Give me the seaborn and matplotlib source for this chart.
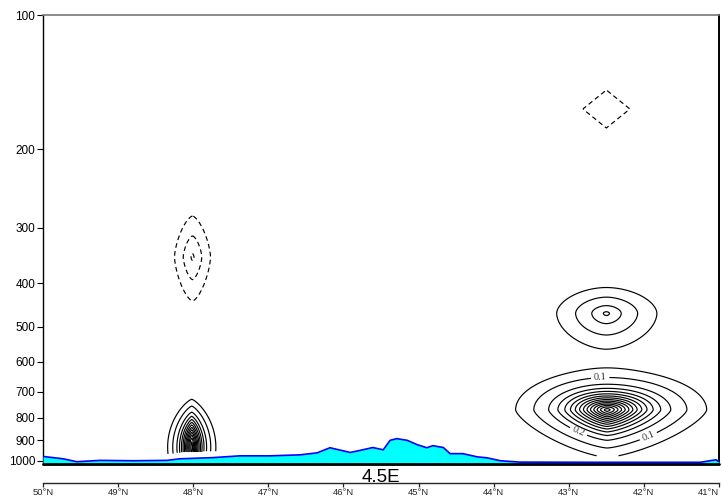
import numpy as np
import pandas as pd
import matplotlib
matplotlib.use("Agg")
import matplotlib.pyplot as plt
import seaborn as sns

# ---------------- data ----------------
# terrain: surface pressure (hPa) along the latitude section
terrain_lat = [50.0, 49.73, 49.55, 49.24, 48.80, 48.35, 48.18, 47.74, 47.38, 46.98,
               46.58, 46.35, 46.18, 45.91, 45.78, 45.61, 45.47, 45.38, 45.29, 45.15,
               45.02, 44.89, 44.81, 44.67, 44.58, 44.41, 44.22, 44.09, 43.91, 43.65,
               42.58, 41.25, 41.04, 41.0]
terrain_p = [978, 990, 1005, 998, 1000, 998, 990, 984, 975, 975,
             970, 960, 935, 958, 948, 934, 945, 900, 892, 900,
             920, 935, 925, 934, 964, 964, 980, 985, 1000, 1007,
             1008, 1008, 995, 1005]

# field features (centre latitude, centre pressure, amplitude, extents, shape)
blob_lat = [42.49, 42.50, 48.02, 48.01, 42.50]
blob_p = [769.0, 467.0, 932.0, 349.0, 162.5]
blob_amp = [1.45, 0.325, 1.25, -0.31, -0.15]
blob_wx_north = [0.466, 0.360, 0.124, 0.220, 0.772]   # degrees
blob_wx_south = [0.507, 0.366, 0.124, 0.220, 0.772]
blob_wy_up = [0.0343, 0.0323, 0.058, 0.0843, 0.105]   # log10(p) units
blob_wy_down = [0.0408, 0.0426, 0.058, 0.0906, 0.105]
blob_qx = [1.33, 1.2, 1.3, 1.43, 1.0]
blob_qy = [1.33, 1.2, 2.0, 1.43, 1.0]
blob_m_up = [1.5, 1.5, 1.0, 1.05, 1.0]
blob_m_down = [1.05, 1.5, 1.0, 1.05, 1.0]

pos_levels = [0.04, 0.3, 0.4, 0.5, 0.6, 0.7, 0.8, 0.9, 1.0, 1.1, 1.2, 1.3, 1.4]
labelled_levels = [0.1, 0.2]
neg_levels = [-0.3, -0.2, -0.1]

y_ticks = [100, 200, 300, 400, 500, 600, 700, 800, 900, 1000]
x_ticks = [50, 49, 48, 47, 46, 45, 44, 43, 42, 41]
x_labels = [f"{v}°N" for v in x_ticks]
title = "4.5E"
p_bottom, p_top = 1017, 100

# ---------------- build field ----------------
lat = np.linspace(41, 50, 901)
lp = np.linspace(np.log10(p_top), np.log10(p_bottom), 600)
LAT, LP = np.meshgrid(lat, lp)
P = 10 ** LP
Z = np.zeros_like(LAT)
for i in range(len(blob_lat)):
    dx = LAT - blob_lat[i]
    dy = LP - np.log10(blob_p[i])
    wx = np.where(dx > 0, blob_wx_north[i], blob_wx_south[i])
    wy = np.where(dy < 0, blob_wy_up[i], blob_wy_down[i])
    m = np.where(dy < 0, blob_m_up[i], blob_m_down[i])
    S = (np.abs(dx / wx) ** (blob_qx[i] * m) + np.abs(dy / wy) ** (blob_qy[i] * m)) ** (1.0 / m)
    Z += blob_amp[i] * np.exp(-S)

ps_grid = np.interp(lat, terrain_lat[::-1], terrain_p[::-1])
mask = P > (ps_grid[None, :] - 30)
Zm = np.ma.masked_where(mask, Z)

# ---------------- plot ----------------
sns.set_style("white")
plt.rcParams["font.family"] = ["Liberation Sans", "DejaVu Sans"]
plt.rcParams["lines.dashed_pattern"] = [4.0, 2.8]

fig = plt.figure(figsize=(7.22, 4.99), dpi=100)
ax = fig.add_axes([0.0596, 0.0701, 0.9363, 0.8998])
ax.set_yscale("log")

line_kw = dict(colors="black", linewidths=0.85)
cs = ax.contour(LAT, P, Zm, levels=pos_levels, **line_kw)
cn = ax.contour(LAT, P, Zm, levels=neg_levels, linestyles="dashed", **line_kw)
c1 = ax.contour(LAT, P, Zm, levels=[labelled_levels[0]], **line_kw)
c2 = ax.contour(LAT, P, Zm, levels=[labelled_levels[1]], **line_kw)


def to_data(px, py):
    return (50 - (px - 43) / 75.1, 100 * 10 ** ((py - 15) / 446.0))


lab_kw = dict(inline=True, inline_spacing=2, fontsize=7.5, fmt="%.1f", colors="#333333")
t1 = c1.clabel(manual=[to_data(600, 377), to_data(648, 436)], **lab_kw)
t2 = c2.clabel(manual=[to_data(580, 428)], **lab_kw)
for t in list(t1) + list(t2):
    t.set_family(["Liberation Serif", "DejaVu Serif"])

# terrain
ax.fill_between(terrain_lat, terrain_p, p_bottom, color="#00ffff", zorder=3, linewidth=0)
sns.lineplot(x=terrain_lat, y=terrain_p, color="#0000ff", linewidth=1.2, ax=ax,
             sort=False, zorder=4)
ax.axhline(p_bottom, color="black", linewidth=2.0, zorder=5, clip_on=False)

ax.set_xlim(50, 41)
ax.set_ylim(p_bottom, p_top)
ax.set_yticks(y_ticks)
ax.set_yticklabels([str(v) for v in y_ticks])
ax.yaxis.set_minor_locator(matplotlib.ticker.NullLocator())
ax.tick_params(axis="y", direction="out", length=4, width=0.8, labelsize=8.5,
               left=True, pad=1.5, colors="black")
ax.tick_params(axis="x", bottom=False, labelbottom=False)
ax.set_xlabel("")
ax.set_ylabel("")
for s in ["left", "right", "bottom"]:
    ax.spines[s].set_color("black")
    ax.spines[s].set_linewidth(1.0)
ax.spines["right"].set_linewidth(1.4)
ax.spines["top"].set_color("#777777")
ax.spines["top"].set_linewidth(1.2)

sec = ax.secondary_xaxis(-0.0423)
sec.set_xticks(x_ticks)
sec.set_xticklabels(x_labels)
sec.tick_params(axis="x", direction="out", length=3, width=0.9, labelsize=6.8, pad=0.8)
sec.spines["bottom"].set_linewidth(1.0)
last = sec.get_xticklabels()[-1]
last.set_horizontalalignment("right")

ax.text(0.5, -0.029, title, transform=ax.transAxes, ha="center", va="center",
        fontsize=13.5, color="black")

fig.savefig("out.png", dpi=100)
